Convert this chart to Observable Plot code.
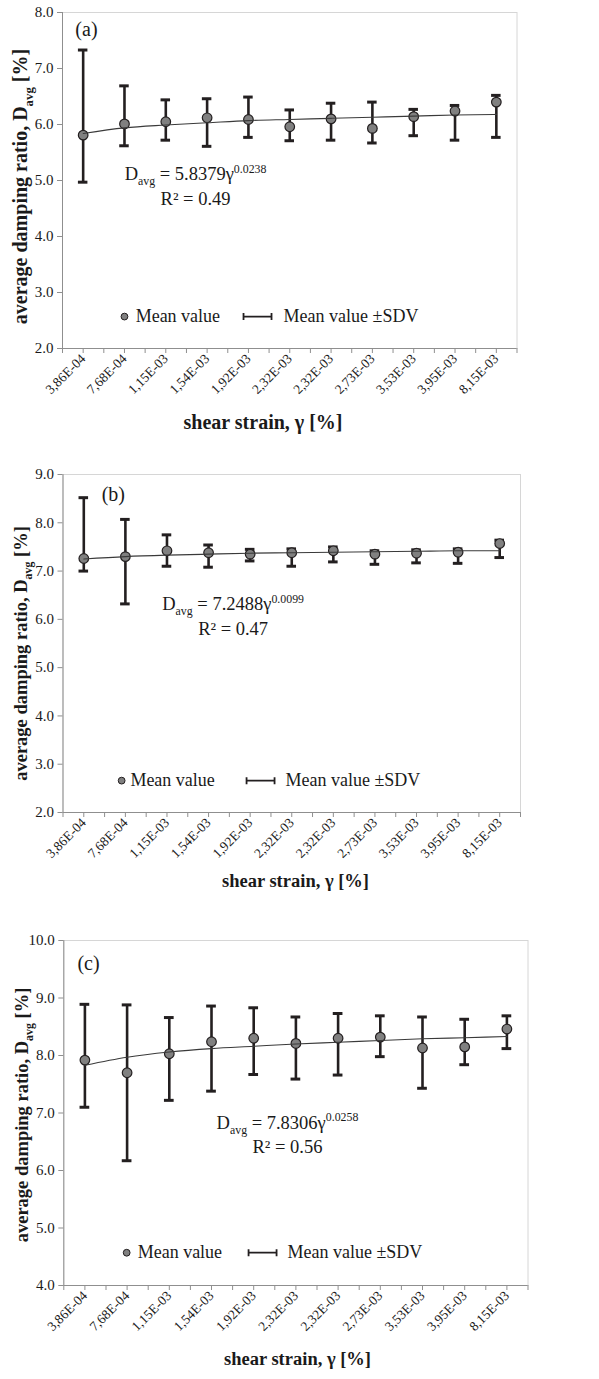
<!DOCTYPE html>
<html><head><meta charset="utf-8">
<script src="https://cdn.jsdelivr.net/npm/d3@7"></script>
<script src="https://cdn.jsdelivr.net/npm/@observablehq/plot@0.6"></script>
<style>
body{margin:0;background:#fff;}
#chart{position:relative;width:599px;height:1379px;overflow:hidden;background:#fff;}
#chart svg{position:absolute;left:0;overflow:visible;}
#chart svg, #chart svg text, #chart svg tspan{font-family:"Liberation Serif","Times New Roman",serif !important;}
</style></head><body><div id="chart"></div>
<script>
// ---- data ----
const strainLabels = ["3,86E-04","7,68E-04","1,15E-03","1,54E-03","1,92E-03","2,32E-03","2,32E-03","2,73E-03","3,53E-03","3,95E-03","8,15E-03"];
const categoryIndex = [1,2,3,4,5,6,7,8,9,10,11];

const meanA  = [5.81,6.01,6.05,6.12,6.09,5.96,6.10,5.93,6.14,6.24,6.40];
const highA  = [7.33,6.69,6.44,6.46,6.49,6.26,6.38,6.40,6.27,6.34,6.52];
const lowA   = [4.97,5.62,5.72,5.61,5.77,5.71,5.72,5.67,5.80,5.72,5.77];
const trendA = [5.84,5.94,5.99,6.03,6.07,6.09,6.11,6.13,6.15,6.17,6.18];

const meanB  = [7.26,7.30,7.42,7.38,7.35,7.38,7.42,7.35,7.37,7.39,7.57];
const highB  = [8.52,8.07,7.75,7.54,7.45,7.46,7.50,7.42,7.44,7.46,7.64];
const lowB   = [7.00,6.32,7.10,7.08,7.21,7.10,7.19,7.14,7.17,7.16,7.28];
const trendB = [7.25,7.30,7.33,7.35,7.37,7.38,7.39,7.40,7.41,7.42,7.42];

const meanC  = [7.92,7.70,8.03,8.24,8.30,8.21,8.30,8.32,8.13,8.15,8.46];
const highC  = [8.89,8.88,8.66,8.86,8.83,8.67,8.73,8.69,8.67,8.63,8.69];
const lowC   = [7.10,6.17,7.22,7.38,7.67,7.59,7.66,7.98,7.43,7.84,8.12];
const trendC = [7.83,7.97,8.06,8.12,8.16,8.20,8.23,8.26,8.29,8.31,8.33];

const eqTexts = ["D_{avg} = 5.8379γ^{0.0238}", "D_{avg} = 7.2488γ^{0.0099}", "D_{avg} = 7.8306γ^{0.0258}"];
const r2Texts = ["R² = 0.49", "R² = 0.47", "R² = 0.56"];
const tags = ["(a)", "(b)", "(c)"];
const yTitle = "average damping ratio, D_{avg} [%]";
const xTitle = "shear strain, γ [%]";
const legendTexts = ["Mean value", "Mean value ±SDV"];

// ---- styles / layout ----
const SERIF = "Liberation Serif";
const AXIS = "#8f8f8f";
const BORDER = "#d6d6d6";
const BAR = "#231f20";
const INK = "#1a1a1a";
const CAP = 0.115;

const panels = [
  {top:0, height:448, mt:12, mb:100, ml:62, mr:82.5, yMin:2, yMax:8,
   mean:meanA, high:highA, low:lowA, trend:trendA, titleFont:20,
   xdx:-26.75, xdy:80.5, ydx:-42, ydy:6,
   tag:{x:1.08, y:7.70}, eq:{x:3.72, y1:5.11, y2:4.66},
   leg:{y:2.57, dot:2.0, t1:2.27, glyph:5.22, t2:5.85}},
  {top:448, height:455, mt:26, mb:91, ml:62.5, mr:79, yMin:2, yMax:9,
   mean:meanB, high:highB, low:lowB, trend:trendB, titleFont:18.5,
   xdx:3.75, xdy:74, ydx:-42, ydy:10,
   tag:{x:1.71, y:8.59}, eq:{x:4.59, y1:6.31, y2:5.79},
   leg:{y:2.66, dot:1.91, t1:2.12, glyph:5.25, t2:5.85}},
  {top:903, height:476, mt:37, mb:94, ml:63.3, mr:71.5, yMin:4, yMax:10,
   mean:meanC, high:highC, low:lowC, trend:trendC, titleFont:18.5,
   xdx:1.6, xdy:79, ydx:-42, ydy:2,
   tag:{x:1.085, y:9.60}, eq:{x:5.80, y1:6.83, y2:6.40},
   leg:{y:4.57, dot:1.99, t1:2.25, glyph:5.21, t2:5.80}}
];

const errSymbol = {draw(ctx) {
  const w = 14, h = 3.5;
  ctx.moveTo(-w, 0); ctx.lineTo(w, 0);
  ctx.moveTo(-w, -h); ctx.lineTo(-w, h);
  ctx.moveTo(w, -h); ctx.lineTo(w, h);
}};

function rich(el) {
  const s = el.textContent;
  const fs = parseFloat(getComputedStyle(el).fontSize) || 16;
  const ns = "http://www.w3.org/2000/svg";
  while (el.firstChild) el.removeChild(el.firstChild);
  let last = 0, shift = 0, m;
  const re = /([_^])\{([^}]*)\}/g;
  const add = (txt, dy, size) => {
    const t = document.createElementNS(ns, "tspan");
    if (size) t.setAttribute("font-size", size);
    if (dy) t.setAttribute("dy", dy);
    t.textContent = txt;
    el.appendChild(t);
  };
  while ((m = re.exec(s))) {
    if (m.index > last) { add(s.slice(last, m.index), -shift); shift = 0; }
    const d = m[1] === "_" ? 0.28 * fs : -0.40 * fs;
    add(m[2], d - shift, 0.64 * fs);
    shift = d;
    last = re.lastIndex;
  }
  if (last < s.length) add(s.slice(last), -shift);
}

const root = document.getElementById("chart");
panels.forEach((p, k) => {
  const rows = categoryIndex.map((c, i) => ({c, mean: p.mean[i], high: p.high[i], low: p.low[i], trend: p.trend[i]}));
  const yTicks = d3.range(p.yMin, p.yMax + 0.001, 1);
  const halfTicks = d3.range(0.5, 11.51, 0.5);
  const svg = Plot.plot({
    width: 599, height: p.height,
    marginTop: p.mt, marginBottom: p.mb, marginLeft: p.ml, marginRight: p.mr,
    style: {fontFamily: SERIF, color: INK, background: "transparent", overflow: "visible"},
    x: {type: "linear", domain: [0.5, 11.5], label: null},
    y: {domain: [p.yMin, p.yMax], label: null},
    marks: [
      Plot.frame({stroke: BORDER}),
      Plot.ruleX([0.5], {stroke: AXIS}),
      Plot.ruleY([p.yMin], {stroke: AXIS}),
      Plot.axisY(yTicks, {tickFormat: d3.format(".1f"), tickSize: 5, tickPadding: 4, stroke: AXIS, fill: INK, fontSize: 15, fontFamily: SERIF, label: null}),
      Plot.axisX(halfTicks, {tickSize: 5, tickFormat: () => "", stroke: AXIS, label: null}),
      Plot.axisX(categoryIndex, {tickSize: 0, tickPadding: 8, tickRotate: -45, tickFormat: i => strainLabels[i - 1], fontSize: 13.5, fontFamily: SERIF, fill: INK, label: null}),
      Plot.ruleX(rows, {x: "c", y1: "low", y2: "high", stroke: BAR, strokeWidth: 2.6}),
      Plot.ruleY(rows, {x1: d => d.c - CAP, x2: d => d.c + CAP, y: "high", stroke: BAR, strokeWidth: 3}),
      Plot.ruleY(rows, {x1: d => d.c - CAP, x2: d => d.c + CAP, y: "low", stroke: BAR, strokeWidth: 3}),
      Plot.dot(rows, {x: "c", y: "mean", r: 4.8, fill: "#808080", stroke: BAR, strokeWidth: 1.2}),
      Plot.line(rows, {x: "c", y: "trend", stroke: "#3a3a3a", strokeWidth: 1.1, curve: "monotone-x"}),
      // panel tag
      Plot.text([{x: p.tag.x, y: p.tag.y, t: tags[k]}], {x: "x", y: "y", text: "t", fontSize: 20, fontFamily: SERIF, fill: INK}),
      // equation
      Plot.text([{x: p.eq.x, y: p.eq.y1, t: eqTexts[k]}, {x: p.eq.x, y: p.eq.y2, t: r2Texts[k]}], {x: "x", y: "y", text: "t", fontSize: 18.5, fontFamily: SERIF, fill: INK}),
      // legend
      Plot.dot([{x: p.leg.dot, y: p.leg.y}], {x: "x", y: "y", r: 3.4, fill: "#808080", stroke: BAR, strokeWidth: 1}),
      Plot.dot([{x: p.leg.glyph, y: p.leg.y}], {x: "x", y: "y", symbol: errSymbol, fill: "none", stroke: BAR, strokeWidth: 1.8}),
      Plot.text([{x: p.leg.t1, y: p.leg.y, t: legendTexts[0]}, {x: p.leg.t2, y: p.leg.y, t: legendTexts[1]}], {x: "x", y: "y", text: "t", textAnchor: "start", fontSize: 18, fontFamily: SERIF, fill: INK}),
      // axis titles
      Plot.text([xTitle], {frameAnchor: "bottom", textAnchor: "middle", text: d => d, dx: p.xdx, dy: p.xdy, fontSize: p.titleFont, fontFamily: SERIF, fontWeight: "bold", fill: INK}),
      Plot.text([yTitle], {frameAnchor: "left", textAnchor: "middle", text: d => d, rotate: -90, dx: p.ydx, dy: p.ydy, fontSize: p.titleFont, fontFamily: SERIF, fontWeight: "bold", fill: INK})
    ]
  });
  svg.style.top = p.top + "px";
  root.appendChild(svg);
  d3.select(svg).selectAll("text").each(function() {
    if (/[_^]\{/.test(this.textContent)) rich(this);
  });
});
</script>
</body></html>
